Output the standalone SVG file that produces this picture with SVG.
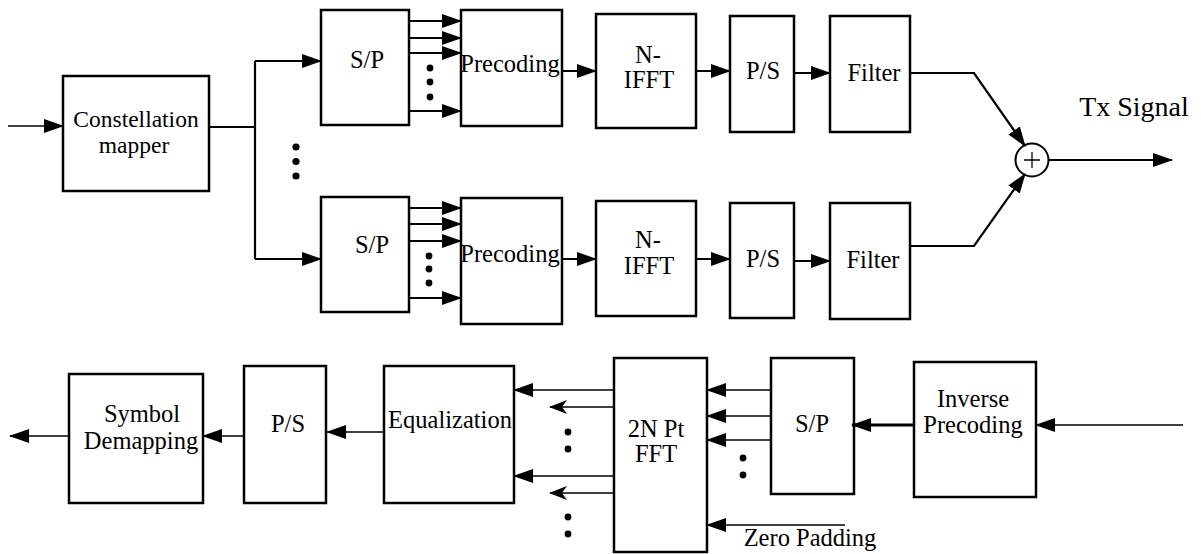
<svg xmlns="http://www.w3.org/2000/svg" width="1201" height="554" viewBox="0 0 1201 554">
<defs>
<marker id="a" markerUnits="userSpaceOnUse" viewBox="0 0 20 14" markerWidth="20" markerHeight="14" refX="19" refY="7" orient="auto"><path d="M0,0 L20,7 L0,14 Z" fill="#000"/></marker>
<marker id="s" markerUnits="userSpaceOnUse" viewBox="0 0 18 14" markerWidth="18" markerHeight="14" refX="17" refY="7" orient="auto"><path d="M0,0 L18,7 L0,14 L5,7 Z" fill="#000"/></marker>
</defs>
<style>
.box{fill:#fff;stroke:#000;stroke-width:2.5}
.ln{fill:none;stroke:#000;stroke-width:2.2}
.tn{fill:none;stroke:#000;stroke-width:1.5}
.tk{fill:none;stroke:#000;stroke-width:2.8}
.dot{fill:#000}
text{font-family:"Liberation Serif","DejaVu Serif",serif;font-size:24.5px;fill:#000;text-anchor:middle}
</style>
<rect width="1201" height="554" fill="#fff"/>

<g id="constellation-mapper"><rect class="box" x="63" y="76" width="146" height="115"/><text x="136" y="127" style="font-size:23.5px">Constellation</text><text x="134" y="153" style="font-size:23.5px">mapper</text></g>
<g id="sp-top"><rect class="box" x="321" y="10" width="88" height="115"/><text x="367" y="68">S/P</text></g>
<g id="precoding-top"><rect class="box" x="461" y="10" width="101" height="116"/><text x="510" y="72">Precoding</text></g>
<g id="nifft-top"><rect class="box" x="596" y="14" width="100" height="114"/><text x="648" y="63">N-</text><text x="649" y="88">IFFT</text></g>
<g id="ps-top"><rect class="box" x="730" y="16" width="64" height="116"/><text x="763" y="79">P/S</text></g>
<g id="filter-top"><rect class="box" x="830" y="16" width="80" height="116"/><text x="874" y="81">Filter</text></g>

<g id="sp-bottom"><rect class="box" x="321" y="197" width="88" height="115"/><text x="372" y="253">S/P</text></g>
<g id="precoding-bottom"><rect class="box" x="461" y="198" width="101" height="126"/><text x="510" y="262">Precoding</text></g>
<g id="nifft-bottom"><rect class="box" x="596" y="201" width="100" height="115"/><text x="648" y="248">N-</text><text x="649" y="274">IFFT</text></g>
<g id="ps-bottom"><rect class="box" x="730" y="203" width="64" height="115"/><text x="763" y="267">P/S</text></g>
<g id="filter-bottom"><rect class="box" x="830" y="203" width="80" height="116"/><text x="873" y="268">Filter</text></g>

<g id="sum"><circle cx="1032" cy="160" r="16.5" fill="#fff" stroke="#000" stroke-width="2"/><path d="M1024,160 H1040 M1032,152 V168" stroke="#000" stroke-width="1.3" fill="none"/></g>
<g id="tx-label"><text x="1134" y="116" style="font-size:28px">Tx Signal</text></g>

<g id="symbol-demapping"><rect class="box" x="69" y="374" width="134" height="129"/><text x="142" y="422">Symbol</text><text x="141" y="449">Demapping</text></g>
<g id="ps-rx"><rect class="box" x="244" y="366" width="82" height="137"/><text x="288" y="432">P/S</text></g>
<g id="equalization"><rect class="box" x="384" y="366" width="130" height="137"/><text x="450" y="428">Equalization</text></g>
<g id="fft"><rect class="box" x="614" y="358" width="93" height="194"/><text x="656" y="437">2N Pt</text><text x="656" y="462">FFT</text></g>
<g id="sp-rx"><rect class="box" x="771" y="358" width="83" height="136"/><text x="812" y="432">S/P</text></g>
<g id="inverse-precoding"><rect class="box" x="914" y="362" width="122" height="135"/><text x="973" y="407">Inverse</text><text x="973" y="433">Precoding</text></g>
<g id="zero-padding-label"><text x="810" y="546">Zero Padding</text></g>

<g id="connectors">
<path class="tn" d="M8,126 H63" marker-end="url(#a)"/>
<path class="ln" d="M209,127 H255 M255,61 V259"/>
<path class="ln" d="M255,61 H321" marker-end="url(#a)"/>
<path class="ln" d="M255,259 H321" marker-end="url(#a)"/>
<path class="ln" d="M409,21 H461" marker-end="url(#a)"/>
<path class="ln" d="M409,38 H461" marker-end="url(#a)"/>
<path class="ln" d="M409,53 H461" marker-end="url(#a)"/>
<path class="ln" d="M409,111 H461" marker-end="url(#a)"/>
<path class="ln" d="M409,208 H461" marker-end="url(#a)"/>
<path class="ln" d="M409,224 H461" marker-end="url(#a)"/>
<path class="ln" d="M409,241 H461" marker-end="url(#a)"/>
<path class="ln" d="M409,298 H461" marker-end="url(#a)"/>
<path class="ln" d="M562,71 H596" marker-end="url(#a)"/>
<path class="ln" d="M696,71 H730" marker-end="url(#a)"/>
<path class="ln" d="M794,73 H830" marker-end="url(#a)"/>
<path class="ln" d="M562,259 H596" marker-end="url(#a)"/>
<path class="ln" d="M696,259 H730" marker-end="url(#a)"/>
<path class="ln" d="M794,261 H830" marker-end="url(#a)"/>
<path class="ln" d="M910,73 H974 L1025,146" marker-end="url(#a)"/>
<path class="ln" d="M910,246 H974 L1025,174" marker-end="url(#a)"/>
<path class="ln" d="M1048.5,160 H1172" marker-end="url(#a)"/>

<path class="tn" d="M1183,425 H1036" marker-end="url(#a)"/>
<path class="tk" d="M914,425 H852" marker-end="url(#a)"/>
<path class="tn" d="M771,390 H707" marker-end="url(#a)"/>
<path class="tn" d="M771,416 H707" marker-end="url(#a)"/>
<path class="tn" d="M771,440 H707" marker-end="url(#a)"/>
<path class="tn" d="M845,525 H707" marker-end="url(#a)"/>
<path class="tn" d="M614,390 H514" marker-end="url(#a)"/>
<path class="tn" d="M614,476 H514" marker-end="url(#a)"/>
<path class="tn" d="M614,407 H550" marker-end="url(#s)"/>
<path class="tn" d="M614,493 H550" marker-end="url(#s)"/>
<path class="tn" d="M384,432 H327" marker-end="url(#a)"/>
<path class="tn" d="M244,436 H203" marker-end="url(#a)"/>
<path class="tn" d="M69,436 H10" marker-end="url(#a)"/>
</g>

<g id="ellipses">
<circle class="dot" cx="296" cy="147" r="3.6"/><circle class="dot" cx="296" cy="161.5" r="3.6"/><circle class="dot" cx="296" cy="176" r="3.6"/>
<circle class="dot" cx="430" cy="68" r="3.4"/><circle class="dot" cx="430" cy="82" r="3.4"/><circle class="dot" cx="430" cy="97" r="3.4"/>
<circle class="dot" cx="429" cy="256" r="3.4"/><circle class="dot" cx="429" cy="269" r="3.4"/><circle class="dot" cx="429" cy="283" r="3.4"/>
<circle class="dot" cx="568" cy="432" r="3.4"/><circle class="dot" cx="568" cy="449" r="3.4"/>
<circle class="dot" cx="568" cy="517" r="3.4"/><circle class="dot" cx="568" cy="534" r="3.4"/>
<circle class="dot" cx="743" cy="458" r="3.4"/><circle class="dot" cx="743" cy="475" r="3.4"/>
</g>
</svg>
